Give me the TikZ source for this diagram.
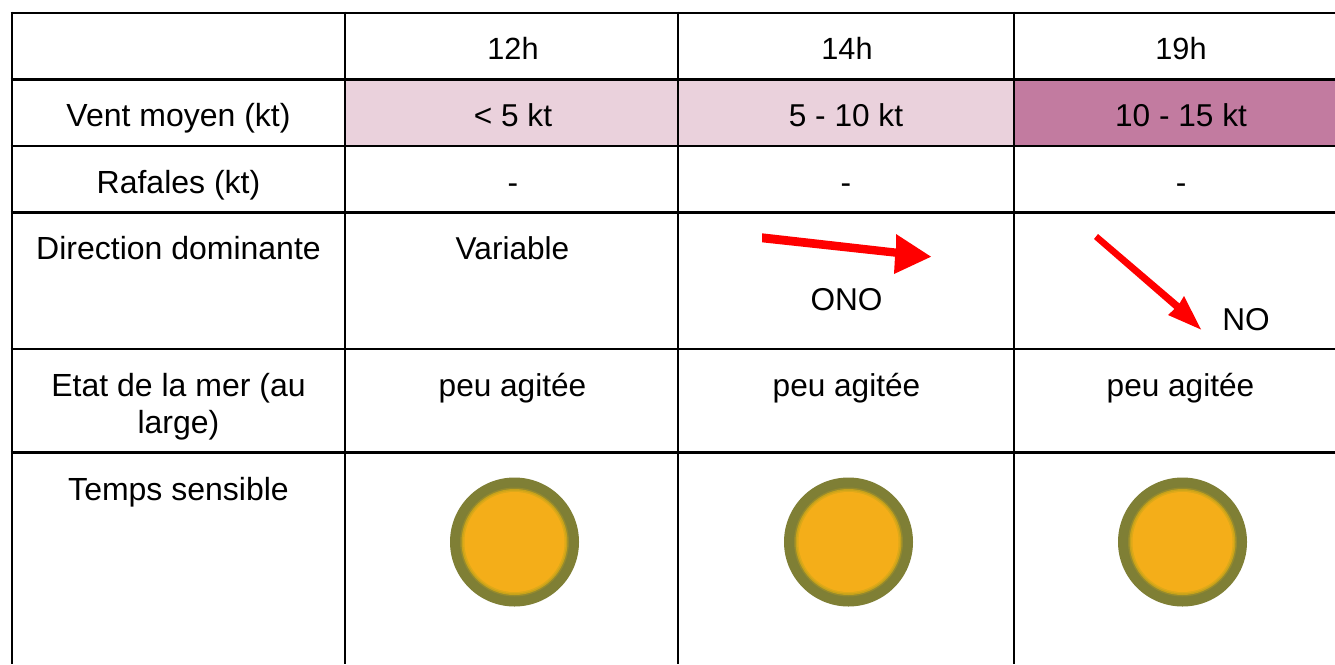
\documentclass[tikz,border=0pt]{standalone}
\usepackage{fontspec}
\setmainfont{Liberation Sans}
\definecolor{lightpink}{HTML}{EAD1DC}
\definecolor{darkpink}{HTML}{C27BA0}
\definecolor{sunrim}{HTML}{7F7F35}
\definecolor{sunglow}{HTML}{C8A31A}
\definecolor{suncore}{HTML}{F4AE19}
\tikzset{
  cell/.style={anchor=base,inner sep=0pt,outer sep=0pt,font=\fontsize{23.7}{27.75}\selectfont,text=black,align=center},
  rowlabel/.style={cell,font=\fontsize{24}{27.75}\selectfont},
  colhead/.style={cell,font=\fontsize{23}{27.75}\selectfont},
  rule/.style={draw=black,line width=2.1pt},
  windarrow/.style={fill=red,draw=none},
}
\newcommand{\sunicon}[2]{%
  \fill[sunrim] (#1,#2) circle (64.5);
  \fill[sunrim!70!sunglow] (#1,#2) circle (54.5);
  \fill[sunglow] (#1,#2) circle (53);
  \fill[sunglow!50!suncore] (#1,#2) circle (51.5);
  \fill[suncore] (#1,#2) circle (50);
}
\begin{document}
\begin{tikzpicture}[x=0.75pt,y=-0.75pt]
\useasboundingbox (0,0) rectangle (1335,664);
\fill[white] (0,0) rectangle (1335,664);
% shaded cells
\fill[lightpink] (345,79.5) rectangle (1014,146);
\fill[darkpink] (1014,79.5) rectangle (1335,146);
% grid
\foreach \yy in {13,79.5,146,212.5,349,452.5} \draw[rule] (10.6,\yy) -- (1335,\yy);
\foreach \xx in {12,345,678,1014} \draw[rule] (\xx,11.6) -- (\xx,664);
% header
\node[colhead] (h1) at (513,59) {12h};
\node[colhead] (h2) at (847,59) {14h};
\node[colhead] (h3) at (1181,59) {19h};
% wind
\node[rowlabel] (r1) at (178.5,126) {Vent moyen (kt)};
\node[cell] (v1) at (513,126) {< 5 kt};
\node[cell] (v2) at (846,126) {5 - 10 kt};
\node[cell] (v3) at (1181,126) {10 - 15 kt};
% gusts
\node[rowlabel] (r2) at (178.5,193) {Rafales (kt)};
\node[cell] (g1) at (513,193) {-};
\node[cell] (g2) at (846,193) {-};
\node[cell] (g3) at (1181,193) {-};
% direction
\node[rowlabel] (r3) at (178.5,259) {Direction dominante};
\node[cell] (d1) at (512.5,259) {Variable};
\node[cell] (d2) at (846.5,310) {ONO};
\node[cell] (d3) at (1246,330) {NO};
\fill[windarrow] (762,233.3) -- (896,248.5) -- (896,234) -- (931,256.7) -- (894,274) -- (895,256.7) -- (762,242.3) -- cycle;
\fill[windarrow] (1098,234) -- (1179.5,303.5) -- (1184,296) -- (1201,329.5) -- (1168,315) -- (1174.5,309) -- (1094,239) -- cycle;
% sea
\node[rowlabel] (r4a) at (178.5,396) {Etat de la mer (au};
\node[rowlabel] (r4b) at (178.5,433) {large)};
\node[cell] (s1) at (512.5,396) {peu agitée};
\node[cell] (s2) at (846.5,396) {peu agitée};
\node[cell] (s3) at (1180.5,396) {peu agitée};
% weather
\node[rowlabel] (r5) at (178.5,500) {Temps sensible};
\sunicon{514.5}{542}
\sunicon{848.5}{542}
\sunicon{1182.5}{542}
\end{tikzpicture}
\end{document}
